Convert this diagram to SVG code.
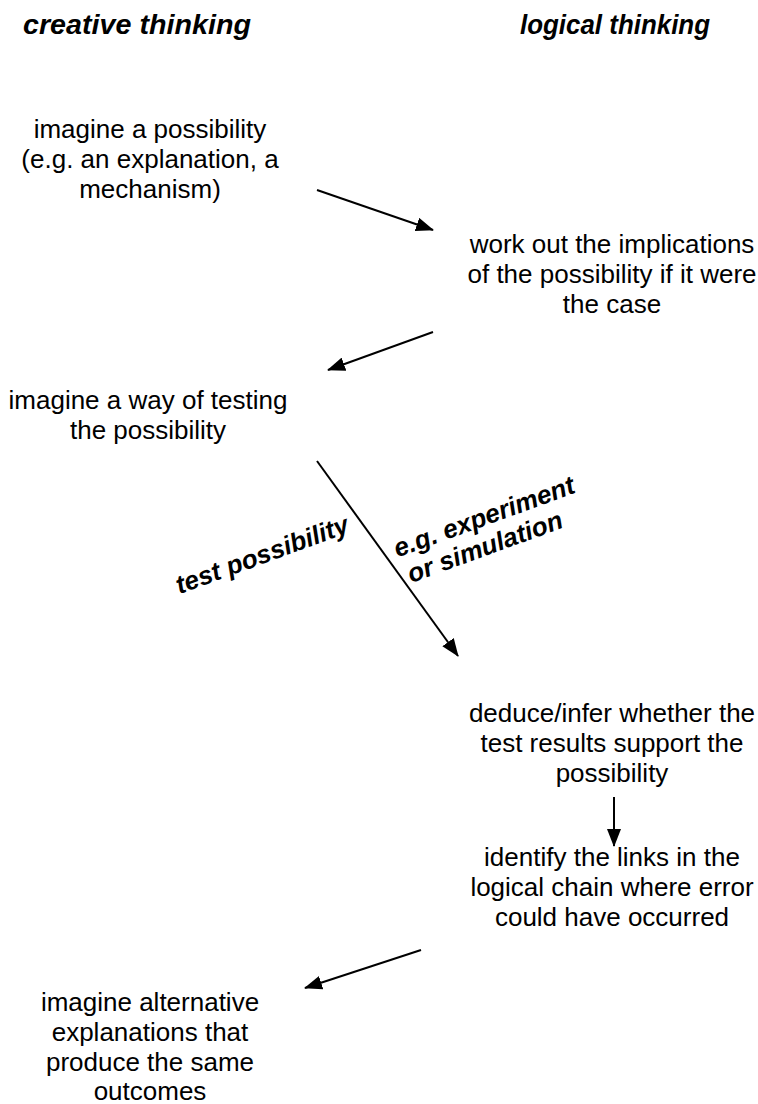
<svg xmlns="http://www.w3.org/2000/svg" width="758" height="1104" viewBox="0 0 758 1104">
<style>
.t{font-family:"Liberation Sans",Arial,Helvetica,sans-serif;font-size:26px;fill:#000;text-anchor:middle}
.h{font-family:"Liberation Sans",Arial,Helvetica,sans-serif;font-size:28px;font-weight:bold;font-style:italic;fill:#000;text-anchor:middle}
.l{font-family:"Liberation Sans",Arial,Helvetica,sans-serif;font-size:26px;font-weight:bold;font-style:italic;fill:#000;text-anchor:middle}
.c{stroke:#000;stroke-width:2;fill:none;marker-end:url(#ah)}
</style>
<defs>
<marker id="ah" viewBox="0 0 18 14" refX="17" refY="7" markerWidth="18" markerHeight="14" markerUnits="userSpaceOnUse" orient="auto">
<path d="M0,0 L18,7 L0,14 z" fill="#000"/>
</marker>
</defs>
<g id="header-creative"><text class="h" x="137" y="34" textLength="228" lengthAdjust="spacingAndGlyphs">creative thinking</text></g>
<g id="header-logical"><text class="h" x="615" y="34" textLength="190" lengthAdjust="spacingAndGlyphs">logical thinking</text></g>
<g id="n1"><text class="t" x="150" y="138">imagine a possibility</text><text class="t" x="150" y="168">(e.g. an explanation, a</text><text class="t" x="150" y="198">mechanism)</text></g>
<g id="n2"><text class="t" x="612" y="253">work out the implications</text><text class="t" x="612" y="283">of the possibility if it were</text><text class="t" x="612" y="313">the case</text></g>
<g id="n3"><text class="t" x="148" y="409">imagine a way of testing</text><text class="t" x="148" y="439">the possibility</text></g>
<g id="n4"><text class="t" x="612" y="722">deduce/infer whether the</text><text class="t" x="612" y="752">test results support the</text><text class="t" x="612" y="782">possibility</text></g>
<g id="n5"><text class="t" x="612" y="866">identify the links in the</text><text class="t" x="612" y="896">logical chain where error</text><text class="t" x="612" y="926">could have occurred</text></g>
<g id="n6"><text class="t" x="150" y="1011">imagine alternative</text><text class="t" x="150" y="1041">explanations that</text><text class="t" x="150" y="1071">produce the same</text><text class="t" x="150" y="1100">outcomes</text></g>
<g id="connectors">
<line class="c" x1="317" y1="190" x2="433" y2="230"/>
<line class="c" x1="433" y1="332" x2="328" y2="370"/>
<line class="c" x1="317" y1="461" x2="458" y2="656"/>
<line class="c" x1="614" y1="797" x2="614" y2="846"/>
<line class="c" x1="421" y1="950" x2="305" y2="988"/>
</g>
<g id="labels">
<text class="l" transform="translate(265,563) rotate(-20)">test possibility</text>
<text class="l" transform="translate(487,525) rotate(-20)">e.g. experiment</text>
<text class="l" transform="translate(488,555) rotate(-20)">or simulation</text>
</g>
</svg>
